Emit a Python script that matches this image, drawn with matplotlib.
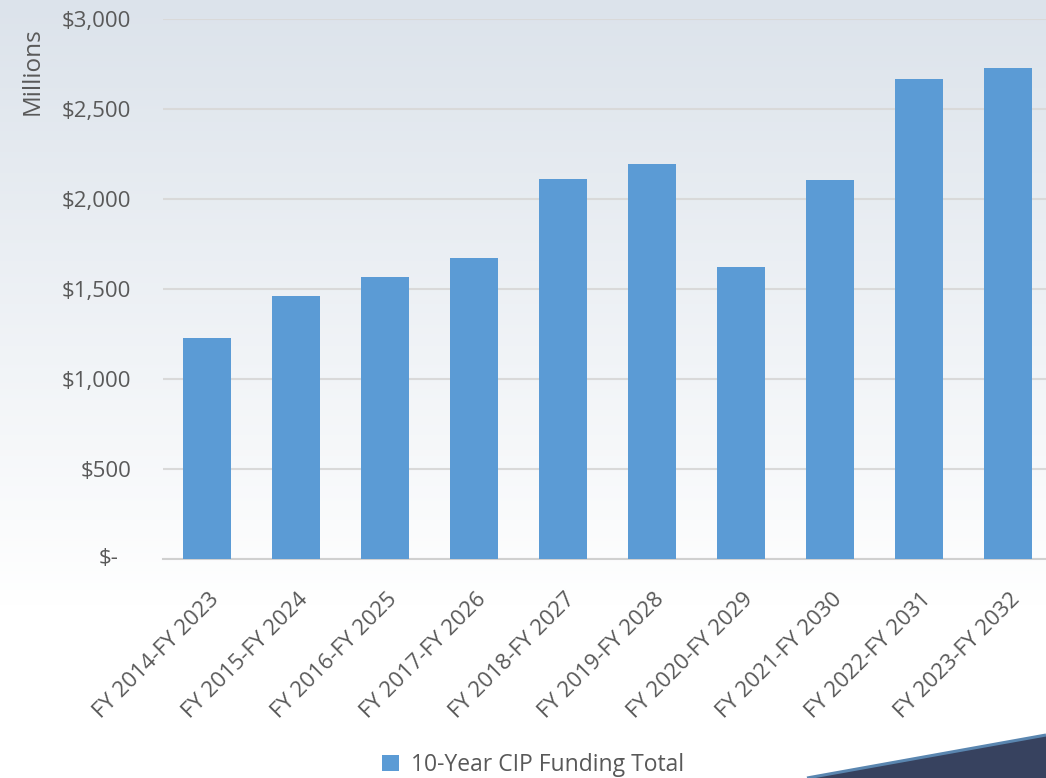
import matplotlib.pyplot as plt
import matplotlib.transforms as mtransforms
import numpy as np
from matplotlib.patches import Polygon
from matplotlib.ticker import FuncFormatter

# Totales del CIP a 10 años, en millones de dólares
periods = ["FY 2014-FY 2023", "FY 2015-FY 2024", "FY 2016-FY 2025", "FY 2017-FY 2026",
           "FY 2018-FY 2027", "FY 2019-FY 2028", "FY 2020-FY 2029", "FY 2021-FY 2030",
           "FY 2022-FY 2031", "FY 2023-FY 2032"]
totals = [1228, 1461, 1567, 1672, 2111, 2194, 1622, 2106, 2665, 2728]
yticks = [0, 500, 1000, 1500, 2000, 2500, 3000]

plt.rcParams['font.family'] = ['Open Sans', 'DejaVu Sans']
text_color = "#595959"
bar_color = "#5b9bd5"

W, H = 1046, 778
fig = plt.figure(figsize=(W / 100, H / 100), dpi=100)

# Fondo degradado (gris azulado arriba, blanco abajo)
bg = fig.add_axes([0, 0, 1, 1], zorder=0)
grad = np.linspace(0, 1, 256).reshape(-1, 1)
top = np.array([220, 227, 235]) / 255.0
bottom = np.array([255, 255, 255]) / 255.0
t = np.clip(grad / 0.78, 0, 1)
img = top * (1 - t[..., None]) + bottom * t[..., None]
img = img.reshape(256, 1, 3)
bg.imshow(img, aspect='auto', extent=[0, 1, 0, 1], origin='upper')
bg.set_xlim(0, 1)
bg.set_ylim(0, 1)
bg.axis('off')

# Franja decorativa inferior derecha
pts = [(807 / W, 0), (1046 / W, 0), (1046 / W, 1 - 735 / H)]
bg.add_patch(Polygon(pts, closed=True, facecolor="#37425f", edgecolor="none"))
bg.plot([807 / W, 1046 / W], [0.0, 1 - 735 / H], color="#5a86b0", lw=2.2,
        solid_capstyle='butt')

# Gráfico de barras
left = 162.5 / W
right = 1046 / W
ax_bottom = 1 - 559 / H
ax_top = 1 - 19 / H
ax = fig.add_axes([left, ax_bottom, right - left, ax_top - ax_bottom], zorder=1)
ax.patch.set_alpha(0)
ax_w = W * (right - left)

x = np.arange(len(periods))
ax.bar(x, totals, width=0.53, color=bar_color, zorder=3, label="10-Year CIP Funding Total")

ax.set_xlim(-0.5, len(periods) - 0.5 - 6.5 / 89)
ax.set_ylim(0, 3000)
ax.set_yticks(yticks)


def money(v, pos):
    if v == 0:
        return ""
    return "${:,.0f}".format(v)


ax.yaxis.set_major_formatter(FuncFormatter(money))
ax.grid(axis='y', color="#d9d9d9", lw=1.5, zorder=0)
for side in ['top', 'right', 'left']:
    ax.spines[side].set_visible(False)
ax.spines['bottom'].set_color("#d0d0d0")
ax.spines['bottom'].set_linewidth(1.5)
ax.tick_params(axis='both', length=0, colors=text_color)
ax.tick_params(axis='y', pad=22.5, labelsize=16)
ax.tick_params(axis='x', pad=27, labelsize=16)

# El cero va con formato contable, algo desplazado a la izquierda
ax.annotate("$-", xy=(0, 0), xycoords=('axes fraction', 'data'),
            xytext=(-44, 0), textcoords='offset pixels', ha='right', va='center',
            fontsize=16, color=text_color)

ax.set_xticks(x)
ax.set_xticklabels(periods, rotation=45, ha='right', va='center', rotation_mode='anchor',
                   color=text_color)
shift = mtransforms.ScaledTranslation(9 / 100, 0, fig.dpi_scale_trans)
for lbl in ax.get_xticklabels():
    lbl.set_transform(lbl.get_transform() + shift)

ax.set_ylabel("Millions", color=text_color, fontsize=17.5)
ax.yaxis.set_label_coords((45 - 162.5) / ax_w, (559 - 71) / 540)

leg_y = (559 - 765) / 540
ax.legend(loc='center', bbox_to_anchor=((533 - 162.5) / ax_w, leg_y),
          frameon=False, fontsize=16.5, labelcolor=text_color, handlelength=0.75,
          handleheight=0.75, handletextpad=0.55)

fig.savefig("out.png", dpi=100)
